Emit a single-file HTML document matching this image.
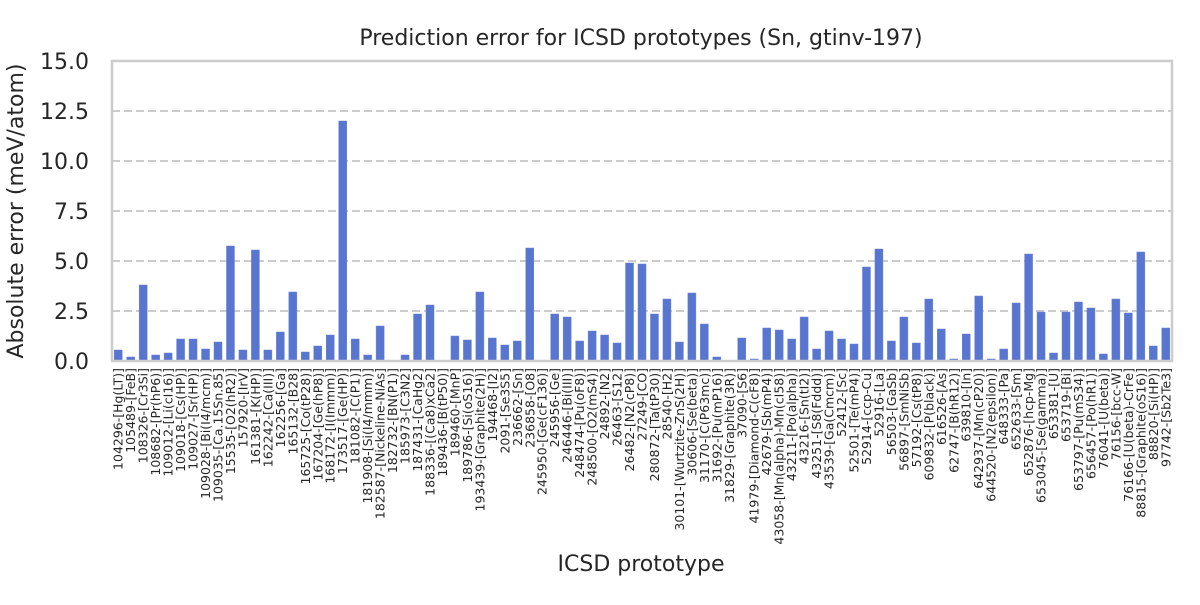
<!DOCTYPE html>
<html><head><meta charset="utf-8"><style>
body{margin:0;background:#fff;font-family:"Liberation Sans","DejaVu Sans",sans-serif;}
</style></head><body>
<svg id="chart" width="1200" height="600" xmlns="http://www.w3.org/2000/svg" style="font-family:'DejaVu Sans','Liberation Sans',sans-serif">
<rect width="1200" height="600" fill="#fff"/>
<text x="641" y="45" text-anchor="middle" font-size="22" fill="#262626">Prediction error for ICSD prototypes (Sn, gtinv-197)</text>
<text transform="translate(23,211) rotate(-90)" text-anchor="middle" font-size="22" fill="#262626">Absolute error (meV/atom)</text>
<text x="641" y="571" text-anchor="middle" font-size="22" fill="#262626">ICSD prototype</text>
<g id="grid"></g><g id="bars"></g><g id="yticks"></g><g id="xticks"></g>
<rect x="112" y="61" width="1060" height="300" fill="none" stroke="#cccccc" stroke-width="2.5"/>
</svg>
<script>
const categories=["104296-[Hg(LT)]","105489-[FeB]","108326-[Cr3Si]","108682-[Pr(hP6)]","109012-[Li(cI16)]","109018-[Cs(HP)]","109027-[Sr(HP)]","109028-[Bi(I4/mcm)]","109035-[Ca.15Sn.85]","15535-[O2(hR2)]","157920-[IrV]","161381-[K(HP)]","162242-[Ca(III)]","162256-[Ga]","165132-[B28]","165725-[Co(tP28)]","167204-[Ge(hP8)]","168172-[I(Immm)]","173517-[Ge(HP)]","181082-[C(P1)]","181908-[Si(I4/mmm)]","182587-[Nickeline-NiAs]","182732-[BN(P1)]","185973-[C3N2]","187431-[CaHg2]","188336-[(Ca8)xCa2]","189436-[B(tP50)]","189460-[MnP]","189786-[Si(oS16)]","193439-[Graphite(2H)]","194468-[I2]","2091-[Se3S5]","236662-[Sn]","236858-[O8]","245950-[Ge(cF136)]","245956-[Ge]","246446-[Bi(III)]","248474-[Pu(oF8)]","248500-[O2(mS4)]","24892-[N2]","26463-[S12]","26482-[N2(cP8)]","27249-[CO]","280872-[Ta(tP30)]","28540-[H2]","30101-[Wurtzite-ZnS(2H)]","30606-[Se(beta)]","31170-[C(P63mc)]","31692-[Pu(mP16)]","31829-[Graphite(3R)]","37090-[S6]","41979-[Diamond-C(cF8)]","42679-[Sb(mP4)]","43058-[Mn(alpha)-Mn(cI58)]","43211-[Po(alpha)]","43216-[Sn(tI2)]","43251-[S8(Fddd)]","43539-[Ga(Cmcm)]","52412-[Sc]","52501-[Te(mP4)]","52914-[ccp-Cu]","52916-[La]","56503-[GaSb]","56897-[SmNiSb]","57192-[Cs(tP8)]","609832-[P(black)]","616526-[As]","62747-[B(hR12)]","639810-[In]","642937-[Mn(cP20)]","644520-[N2(epsilon)]","648333-[Pa]","652633-[Sm]","652876-[hcp-Mg]","653045-[Se(gamma)]","653381-[U]","653719-[Bi]","653797-[Pu(mS34)]","656457-[Po(hR1)]","76041-[U(beta)]","76156-[bcc-W]","76166-[U(beta)-CrFe]","88815-[Graphite(oS16)]","88820-[Si(HP)]","97742-[Sb2Te3]"];
const values=[0.55,0.2,3.8,0.3,0.4,1.1,1.1,0.6,0.95,5.75,0.55,5.55,0.55,1.45,3.45,0.45,0.75,1.3,12.0,1.1,0.3,1.75,0.0,0.3,2.35,2.8,0.0,1.25,1.05,3.45,1.15,0.8,1.0,5.65,0.0,2.35,2.2,1.0,1.5,1.3,0.9,4.9,4.85,2.35,3.1,0.95,3.4,1.85,0.2,0.0,1.15,0.1,1.65,1.55,1.1,2.2,0.6,1.5,1.1,0.85,4.7,5.6,1.0,2.2,0.9,3.1,1.6,0.1,1.35,3.25,0.1,0.6,2.9,5.35,2.45,0.4,2.45,2.95,2.65,0.35,3.1,2.4,5.45,0.75,1.65];
const yTicks=[0,2.5,5,7.5,10,12.5,15];
const yTickLabels=["0.0","2.5","5.0","7.5","10.0","12.5","15.0"];
const NS="http://www.w3.org/2000/svg";
const X0=112,X1=1172,Y0=361,Y1=61,YMAX=15;
const step=(X1-X0)/categories.length;
const xScale=i=>X0+step*(i+0.5);
const yScale=v=>Y0-(v/YMAX)*(Y0-Y1);
function mk(t,a,parent){const e=document.createElementNS(NS,t);for(const k in a)e.setAttribute(k,a[k]);parent.appendChild(e);return e;}
const grid=document.getElementById('grid'),bars=document.getElementById('bars'),yt=document.getElementById('yticks'),xt=document.getElementById('xticks');
yTicks.forEach((v,i)=>{
  const y=yScale(v);
  if(v>0&&v<YMAX){const g=mk('line',{x1:X0,x2:X1,y1:y,y2:y,stroke:'#cccccc','stroke-width':2,'stroke-dasharray':'8,4'},grid);
  
  }
  const t=mk('text',{x:X0-23,y:y+8,'text-anchor':'end','font-size':22,fill:'#262626'},yt);
  t.textContent=yTickLabels[i];
  
  
});
categories.forEach((c,i)=>{
  const x=xScale(i),y=yScale(values[i]);
  const r=mk('rect',{x:x-4,y:y,width:8,height:Y0-y,fill:'#5875d0',stroke:'#6a84d6','stroke-width':0.5},bars);
  
  
  const t=mk('text',{transform:`translate(${x+4.5},368) rotate(-90)`,'text-anchor':'end','font-size':12.5,fill:'#262626'},xt);
  t.textContent=c;
  
  
});
</script>
</body></html>
